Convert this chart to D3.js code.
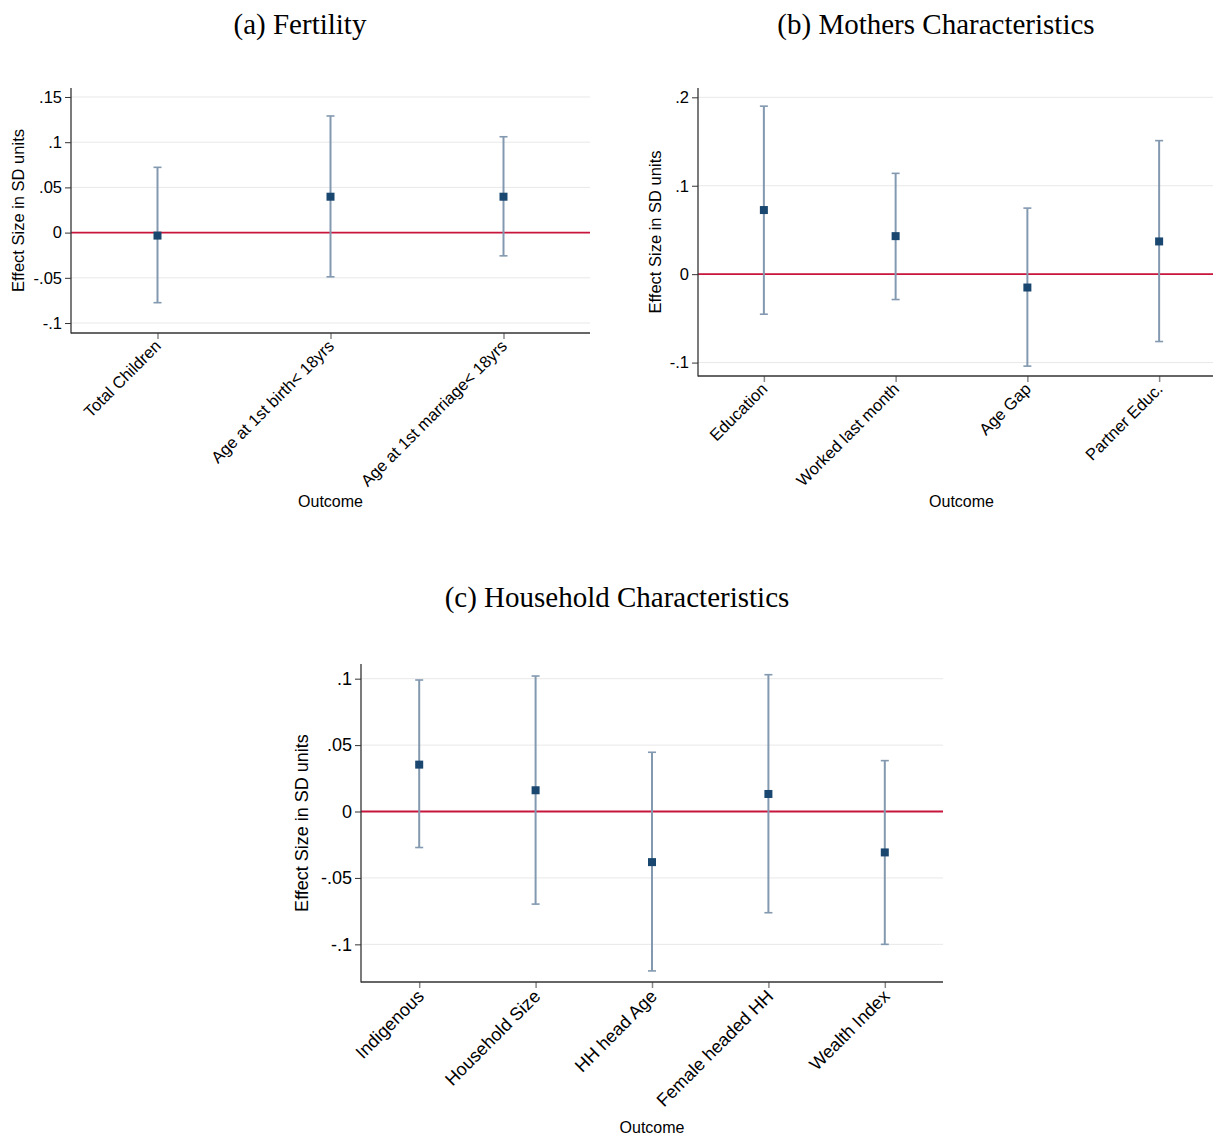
<!DOCTYPE html>
<html>
<head>
<meta charset="utf-8">
<script src="https://cdn.jsdelivr.net/npm/d3@7"></script>
<style>
  html, body { margin: 0; padding: 0; background: #fff; }
  svg { display: block; }
  .tick text { font-family: "Liberation Sans", Arial, sans-serif; }
</style>
</head>
<body>
<svg id="chart" width="1213" height="1138"></svg>
<script>
// Panel (a): Fertility
const fertCats = ["Total Children", "Age at 1st birth< 18yrs", "Age at 1st marriage< 18yrs"];
const fertEst  = [-0.0033, 0.0397, 0.0397];
const fertLo   = [-0.0775, -0.0489, -0.0257];
const fertHi   = [0.0722, 0.1290, 0.1060];
const fertTicks = [-0.1, -0.05, 0, 0.05, 0.1, 0.15];
const fertTickLabels = ["-.1", "-.05", "0", ".05", ".1", ".15"];

// Panel (b): Mothers Characteristics
const momCats = ["Education", "Worked last month", "Age Gap", "Partner Educ."];
const momEst  = [0.0725, 0.0430, -0.0151, 0.0370];
const momLo   = [-0.0453, -0.0287, -0.1040, -0.0762];
const momHi   = [0.1900, 0.1140, 0.0747, 0.1510];
const momTicks = [-0.1, 0, 0.1, 0.2];
const momTickLabels = ["-.1", "0", ".1", ".2"];

// Panel (c): Household Characteristics
const hhCats = ["Indigenous", "Household Size", "HH head Age", "Female headed HH", "Wealth Index"];
const hhEst  = [0.0353, 0.0160, -0.0381, 0.0132, -0.0308];
const hhLo   = [-0.0271, -0.0697, -0.1200, -0.0762, -0.1000];
const hhHi   = [0.0990, 0.1020, 0.0446, 0.1030, 0.0383];
const hhTicks = [-0.1, -0.05, 0, 0.05, 0.1];
const hhTickLabels = ["-.1", "-.05", "0", ".05", ".1"];

const svg = d3.select("#chart");
const SANS = "'Liberation Sans', Arial, sans-serif";
const SERIF = "'Liberation Serif', 'Times New Roman', serif";
const COL_BAR = "#8399b0";
const COL_PT = "#1a476f";
const COL_ZERO = "#c8153c";
const COL_GRID = "#e8e8e8";
const COL_AXIS = "#333333";

function panel(opt) {
  const { cats, est, lo, hi, ticks, tickLabels, left, right, top, bottom, yDomain,
          title, titleX, titleY, yTitleX, xTitleY, fs, labelShift } = opt;
  const g = svg.append("g");

  const x = d3.scaleLinear().domain([0.5, cats.length + 0.5]).range([left, right]);
  const y = d3.scaleLinear().domain(yDomain).range([bottom, top]);
  const plotRight = Math.min(right, 1213);

  // title
  svg.append("text")
    .attr("x", titleX).attr("y", titleY)
    .attr("text-anchor", "middle")
    .style("font-family", SERIF).style("font-size", "29px").style("fill", "#000")
    .text(title);

  // gridlines
  g.append("g").selectAll("line").data(ticks).join("line")
    .attr("x1", left).attr("x2", plotRight)
    .attr("y1", d => y(d)).attr("y2", d => y(d))
    .attr("stroke", COL_GRID).attr("stroke-width", 1);

  // zero reference line
  g.append("line")
    .attr("x1", left).attr("x2", plotRight)
    .attr("y1", y(0)).attr("y2", y(0))
    .attr("stroke", COL_ZERO).attr("stroke-width", 1.8);

  // y axis
  const yAxis = d3.axisLeft(y).tickValues(ticks)
    .tickFormat((d, i) => tickLabels[i]).tickSize(6).tickPadding(3).tickSizeOuter(0);
  const ya = g.append("g").attr("transform", `translate(${left},0)`).call(yAxis);
  ya.select(".domain").remove();
  ya.selectAll(".tick line").attr("stroke", COL_AXIS);
  ya.selectAll(".tick text").style("font-size", fs).style("font-family", SANS).attr("fill", "#000");
  g.append("line").attr("x1", left).attr("x2", left).attr("y1", top).attr("y2", bottom + 0.5)
    .attr("stroke", COL_AXIS).attr("stroke-width", 1.3);

  // x axis
  const xAxis = d3.axisBottom(x).tickValues(d3.range(1, cats.length + 1))
    .tickFormat(d => cats[d - 1]).tickSize(6).tickSizeOuter(0);
  const xa = g.append("g").attr("transform", `translate(0,${bottom})`).call(xAxis);
  xa.select(".domain").remove();
  xa.selectAll(".tick line").attr("stroke", "#888").attr("stroke-width", 1.5);
  xa.selectAll(".tick text")
    .style("font-size", fs).style("font-family", SANS).attr("fill", "#000")
    .attr("text-anchor", "end")
    .attr("dy", "0.35em")
    .attr("transform", `translate(${labelShift[0]},${labelShift[1]}) rotate(-45)`)
    .attr("x", 0).attr("y", 0);
  g.append("line").attr("x1", left).attr("x2", plotRight).attr("y1", bottom).attr("y2", bottom)
    .attr("stroke", COL_AXIS).attr("stroke-width", 1.3);

  // axis titles
  g.append("text")
    .attr("transform", `translate(${yTitleX},${(top + bottom) / 2}) rotate(-90)`)
    .attr("text-anchor", "middle")
    .style("font-family", SANS).style("font-size", fs).style("fill", "#000")
    .text("Effect Size in SD units");
  g.append("text")
    .attr("x", (left + right) / 2).attr("y", xTitleY)
    .attr("text-anchor", "middle")
    .style("font-family", SANS).style("font-size", "16px").style("fill", "#000")
    .text("Outcome");

  const rows = cats.map((c, i) => ({ i: i + 1, est: est[i], lo: lo[i], hi: hi[i] }));

  // confidence intervals
  const bars = g.append("g").selectAll("g").data(rows).join("g");
  bars.append("line")
    .attr("x1", d => x(d.i)).attr("x2", d => x(d.i))
    .attr("y1", d => y(d.lo)).attr("y2", d => y(d.hi))
    .attr("stroke", COL_BAR).attr("stroke-width", 2);
  bars.append("line")
    .attr("x1", d => x(d.i) - 4).attr("x2", d => x(d.i) + 4)
    .attr("y1", d => y(d.hi)).attr("y2", d => y(d.hi))
    .attr("stroke", COL_BAR).attr("stroke-width", 1.6);
  bars.append("line")
    .attr("x1", d => x(d.i) - 4).attr("x2", d => x(d.i) + 4)
    .attr("y1", d => y(d.lo)).attr("y2", d => y(d.lo))
    .attr("stroke", COL_BAR).attr("stroke-width", 1.6);

  // point estimates
  g.append("g").selectAll("rect").data(rows).join("rect")
    .attr("x", d => x(d.i) - 4).attr("y", d => y(d.est) - 4)
    .attr("width", 8).attr("height", 8)
    .attr("fill", COL_PT);
}

panel({
  cats: fertCats, est: fertEst, lo: fertLo, hi: fertHi,
  ticks: fertTicks, tickLabels: fertTickLabels,
  left: 71, right: 590, top: 88, bottom: 333,
  yDomain: [-0.1 - 10 / 906, 0.15 + 9 / 906],
  title: "(a) Fertility", titleX: 300, titleY: 34,
  yTitleX: 24, xTitleY: 507, fs: "16.5px", labelShift: [0, 10]
});

panel({
  cats: momCats, est: momEst, lo: momLo, hi: momHi,
  ticks: momTicks, tickLabels: momTickLabels,
  left: 698, right: 1225, top: 88, bottom: 376,
  yDomain: [-0.1 - 13.4 / 883, 0.2 + 9.3 / 883],
  title: "(b) Mothers Characteristics", titleX: 936, titleY: 34,
  yTitleX: 661, xTitleY: 507, fs: "16.5px", labelShift: [0, 10]
});

panel({
  cats: hhCats, est: hhEst, lo: hhLo, hi: hhHi,
  ticks: hhTicks, tickLabels: hhTickLabels,
  left: 361, right: 943, top: 664, bottom: 982,
  yDomain: [-0.1 - 37.7 / 1330, 0.1 + 14.7 / 1330],
  title: "(c) Household Characteristics", titleX: 617, titleY: 607,
  yTitleX: 308, xTitleY: 1133, fs: "18px", labelShift: [1, 11]
});
</script>
</body>
</html>
